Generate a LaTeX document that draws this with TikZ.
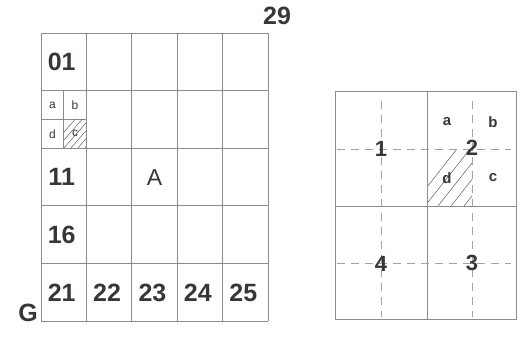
\documentclass[tikz,border=0pt]{standalone}
\usepackage{fontspec}
\setmainfont{Liberation Sans}
\usetikzlibrary{calc, positioning}
\definecolor{ink}{HTML}{3A3536}
\definecolor{rule}{HTML}{8C8C8C}
\tikzset{
  gridline/.style={draw=rule, line width=0.9pt},
  dashline/.style={draw=rule!80, line width=0.9pt, dash pattern=on 8pt off 6pt},
  hatchline/.style={draw=ink!80, line width=0.5pt},
  bignum/.style={text=ink, font=\bfseries\fontsize{25}{25}\selectfont, inner sep=0pt},
  midnum/.style={text=ink, font=\bfseries\fontsize{22}{22}\selectfont, inner sep=0pt},
  sheetname/.style={text=ink, font=\fontsize{23}{23}\selectfont, inner sep=0pt},
  smalltag/.style={text=ink, font=\fontsize{12}{12}\selectfont, inner sep=0pt},
  midtag/.style={text=ink, font=\bfseries\fontsize{15}{15}\selectfont, inner sep=0pt},
}
\begin{document}
\begin{tikzpicture}[x=1pt,y=-1pt]
\useasboundingbox (0,0) rectangle (529,343);
% left sheet: 5 x 5 cells
\def\xL{41}
\def\yL{33}
\def\cw{45.4}
\def\ch{57.6}
\coordinate (L0) at (\xL,\yL);
\coordinate (L1) at (268,321);

\foreach \i in {0,...,5} {
  \draw[gridline] (\xL+\i*\cw,\yL) -- (\xL+\i*\cw,321);
  \draw[gridline] (\xL,\yL+\i*\ch) -- (268,\yL+\i*\ch);
}

% quarters of the sheet 06
\draw[gridline] (\xL+0.5*\cw,\yL+\ch) -- (\xL+0.5*\cw,\yL+2*\ch);
\draw[gridline] (\xL,\yL+1.5*\ch) -- (\xL+\cw,\yL+1.5*\ch);
\begin{scope}
  \clip (\xL+0.5*\cw,\yL+1.5*\ch) rectangle (\xL+\cw,\yL+2*\ch);
  \foreach \k in {0,...,6} {
    \draw[hatchline] (\xL+0.5*\cw-14+\k*7,\yL+2*\ch) -- ++(30,-34);
  }
\end{scope}

\node[bignum] (n01) at (\xL+0.5*\cw-2,\yL+0.5*\ch) {01};
\node[bignum] (n11) at (\xL+0.5*\cw-2,\yL+2.5*\ch) {11};
\node[bignum] (n16) at (\xL+0.5*\cw-2,\yL+3.5*\ch) {16};
\foreach \i/\lbl in {0/21,1/22,2/23,3/24,4/25} {
  \node[bignum] (n\lbl) at (\xL+\i*\cw+0.5*\cw-2,293) {\lbl};
}
\node[smalltag] (qa) at (\xL+0.25*\cw,\yL+1.25*\ch) {a};
\node[smalltag] (qb) at (\xL+0.75*\cw,\yL+1.25*\ch) {b};
\node[smalltag] (qd) at (\xL+0.25*\cw,\yL+1.75*\ch) {d};
\node[smalltag] (qc) at (\xL+0.75*\cw,\yL+1.75*\ch) {c};

\node[sheetname] (sheetA) at (\xL+2.5*\cw,\yL+2.5*\ch+1) {A};
\node[bignum] (corner) at (28,313) {G};
\node[bignum] (title) at (277,16) {29};

% right sheet: 4 quarters, each split by dashes
\coordinate (R0) at (335,91);
\coordinate (RM) at (427,206);
\coordinate (R1) at (516,319);

\begin{scope}
  \clip (427,149) rectangle (472,206);
  \foreach \k in {0,...,6} {
    \draw[hatchline] (412+\k*13,206) -- ++(45,-57);
  }
\end{scope}

\draw[gridline] (R0) rectangle (R1);
\draw[gridline] (RM|-R0) -- (RM|-R1);
\draw[gridline] (R0|-RM) -- (R1|-RM);

\foreach \x in {381,472} {
  \draw[dashline] (\x,101) -- (\x,317);
}
\foreach \y in {149,263} {
  \draw[dashline] (337,\y) -- (511,\y);
}

\node[midnum] (p1) at (381,149) {1};
\node[midnum] (p2) at (472,148) {2};
\node[midnum] (p3) at (472,263) {3};
\node[midnum] (p4) at (381,264) {4};
\node[midtag] (ra) at (447,122) {a};
\node[midtag] (rb) at (493,122) {b};
\node[midtag] (rd) at (447,178) {d};
\node[midtag] (rc) at (493,178) {c};

\end{tikzpicture}
\end{document}
